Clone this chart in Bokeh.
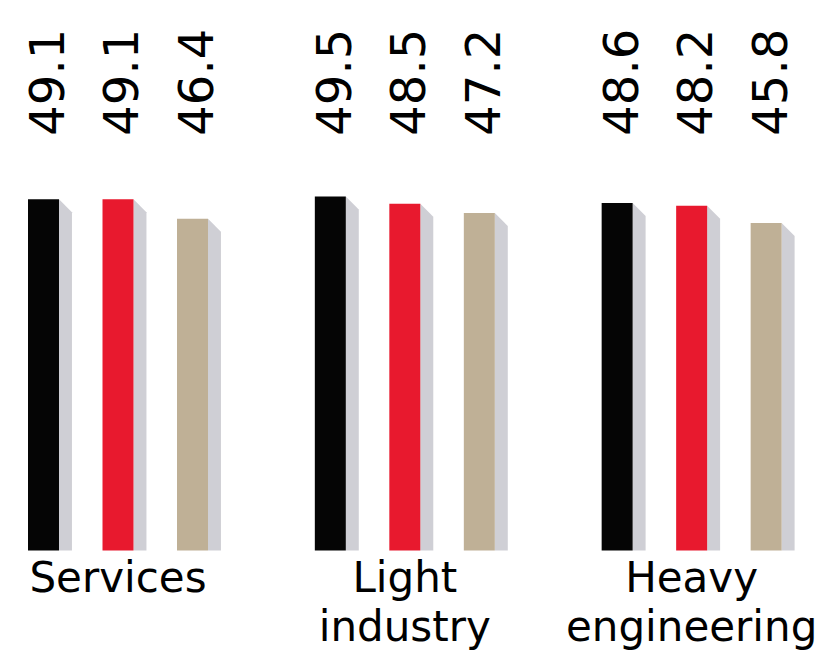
import math
from bokeh.plotting import figure
from bokeh.models import Range1d, ColumnDataSource
from bokeh.core.properties import value
from bokeh.embed import file_html
from bokeh.resources import INLINE

# ---- data ----
categories = ["Services", "Light\nindustry", "Heavy\nengineering"]
series_names = ["Series A", "Series B", "Series C"]
series_colors = ["#050505", "#e8192e", "#bfb096"]
values_a = [49.1, 49.5, 48.6]
values_b = [49.1, 48.5, 48.2]
values_c = [46.4, 47.2, 45.8]
value_labels_a = ["49.1", "49.5", "48.6"]
value_labels_b = ["49.1", "48.5", "48.2"]
value_labels_c = ["46.4", "47.2", "45.8"]

# ---- layout constants ----
W, H = 823, 651
PX_X = 74.5            # pixels per bar step
PX_Y = 7.152           # pixels per value unit
GROUP_STEP = 3.85      # in bar-step units
BAR_W = 0.416
SHADOW_DX = 0.174
SHADOW_DY = 1.82
Y_TOP = 550 / PX_Y
X_START = -43 / PX_X
LABEL_Y = 58.0
CAT_Y = 76.90 - 552 / PX_Y
FONT = "DejaVu Sans"

p = figure(width=W, height=H, output_backend="svg", toolbar_location=None,
           x_range=Range1d(X_START, X_START + W / PX_X),
           y_range=Range1d(Y_TOP - H / PX_Y, Y_TOP),
           min_border=0)
p.axis.visible = False
p.grid.visible = False
p.outline_line_color = None
p.background_fill_color = "white"
p.border_fill_color = "white"

all_vals = [values_a, values_b, values_c]
all_lbls = [value_labels_a, value_labels_b, value_labels_c]

xs, tops, cols, lbls = [], [], [], []
for gi in range(len(categories)):
    for si in range(3):
        xs.append(gi * GROUP_STEP + si)
        tops.append(all_vals[si][gi])
        cols.append(series_colors[si])
        lbls.append(all_lbls[si][gi])

# shadows (bevel-shaped) derived from data
sh_xs = [[x + BAR_W / 2, x + BAR_W / 2 + SHADOW_DX, x + BAR_W / 2 + SHADOW_DX, x + BAR_W / 2] for x in xs]
sh_ys = [[t, t - SHADOW_DY, 0, 0] for t in tops]
p.patches(xs=sh_xs, ys=sh_ys, fill_color="#cfcfd5", line_color=None)

src = ColumnDataSource(dict(x=xs, top=tops, color=cols, label=lbls,
                            lx=[x + 0.04 for x in xs], ly=[LABEL_Y] * len(xs)))
p.vbar(x="x", top="top", bottom=0, width=BAR_W, fill_color="color", line_color=None, source=src)

p.text(x="lx", y="ly", text="label", source=src, angle=math.pi / 2,
       text_align="left", text_baseline="middle",
       text_font=value(FONT), text_font_size="48px", text_color="black")

cat_src = ColumnDataSource(dict(x=[gi * GROUP_STEP + 1.0 for gi in range(len(categories))],
                                y=[CAT_Y] * len(categories), text=categories))
p.text(x="x", y="y", text="text", source=cat_src, text_align="center", text_baseline="top",
       text_font=value(FONT), text_font_size="42px", text_color="black", text_line_height=1.0)

open("out.html", "w").write(file_html(p, INLINE))
